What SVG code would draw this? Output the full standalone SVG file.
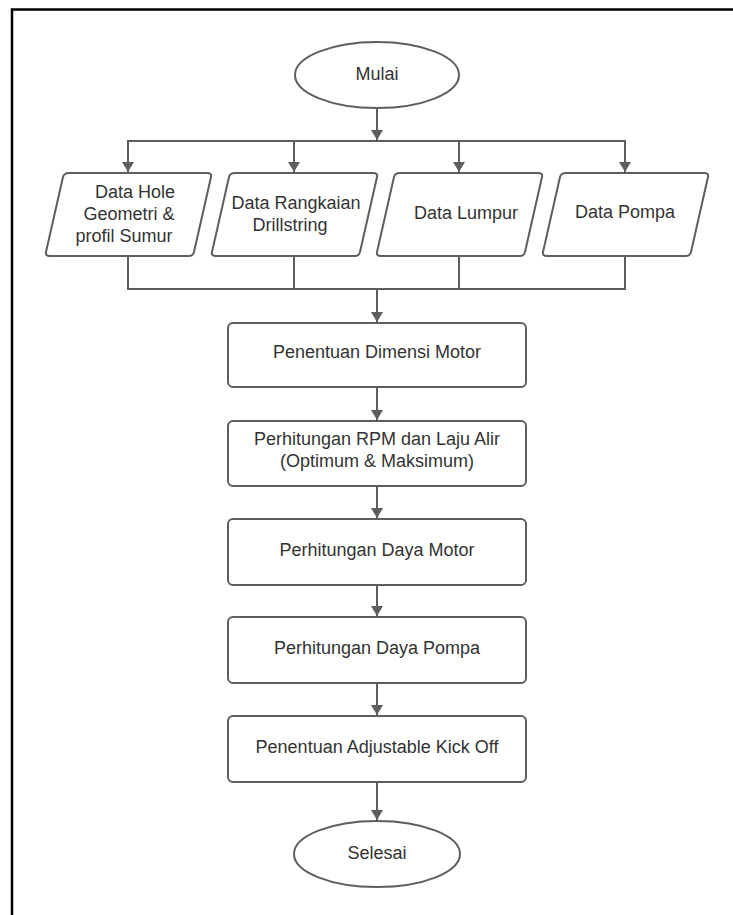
<svg xmlns="http://www.w3.org/2000/svg" width="733" height="915" viewBox="0 0 733 915">
<style>
.shape{fill:#ffffff;stroke:#5e5e5e;stroke-width:2;stroke-linejoin:round}
.conn{fill:none;stroke:#5e5e5e;stroke-width:2}
.t{font-family:"Liberation Sans",Arial,sans-serif;font-size:18px;fill:#333333;text-anchor:middle}
</style>
<defs>
<marker id="arr" viewBox="0 0 10 12" refX="10" refY="6" markerWidth="10" markerHeight="12" markerUnits="userSpaceOnUse" orient="auto">
<path d="M0,0 L10,6 L0,12 Z" fill="#5e5e5e"/>
</marker>
</defs>
<rect width="733" height="915" fill="#ffffff"/>
<path d="M12 915 V9.5 H733" fill="none" stroke="#000000" stroke-width="2.5"/>
<g id="connectors">
<path class="conn" d="M377 108 V140" marker-end="url(#arr)"/>
<path class="conn" d="M128 172 V141 H625 V172" marker-end="url(#arr)"/>
<path class="conn" d="M128 141 V172" marker-end="url(#arr)"/>
<path class="conn" d="M294 141 V172" marker-end="url(#arr)"/>
<path class="conn" d="M459 141 V172" marker-end="url(#arr)"/>
<path class="conn" d="M128 256 V289 H625 V256"/>
<path class="conn" d="M294 256 V289"/>
<path class="conn" d="M459 256 V289"/>
<path class="conn" d="M377 289 V322" marker-end="url(#arr)"/>
<path class="conn" d="M377 387 V420" marker-end="url(#arr)"/>
<path class="conn" d="M377 486 V518" marker-end="url(#arr)"/>
<path class="conn" d="M377 585 V616" marker-end="url(#arr)"/>
<path class="conn" d="M377 683 V715" marker-end="url(#arr)"/>
<path class="conn" d="M377 782 V820" marker-end="url(#arr)"/>
</g>
<g id="mulai">
<ellipse class="shape" cx="377" cy="75" rx="82" ry="33"/>
<text class="t" x="377" y="80">Mulai</text>
</g>
<g id="data-hole">
<path class="shape" d="M69 173 H207 Q212 173 211 177 L194 252 Q193 256 189 256 H50 Q45 256 46 252 L63 177 Q64 173 69 173 Z"/>
<text class="t" x="135" y="198">Data Hole</text>
<text class="t" x="129" y="220">Geometri &amp;</text>
<text class="t" x="124" y="242">profil Sumur</text>
</g>
<g id="data-rangkaian">
<path class="shape" d="M235 173 H373 Q378 173 377 177 L360 252 Q359 256 355 256 H216 Q211 256 212 252 L229 177 Q230 173 235 173 Z"/>
<text class="t" x="296" y="209">Data Rangkaian</text>
<text class="t" x="290" y="231">Drillstring</text>
</g>
<g id="data-lumpur">
<path class="shape" d="M400 173 H538 Q543 173 542 177 L525 252 Q524 256 520 256 H381 Q376 256 377 252 L394 177 Q395 173 400 173 Z"/>
<text class="t" x="466" y="219">Data Lumpur</text>
</g>
<g id="data-pompa">
<path class="shape" d="M566 173 H704 Q709 173 708 177 L691 252 Q690 256 686 256 H547 Q542 256 543 252 L560 177 Q561 173 566 173 Z"/>
<text class="t" x="625" y="218">Data Pompa</text>
</g>
<g id="dimensi-motor">
<rect class="shape" x="228" y="323" width="298" height="64" rx="5"/>
<text class="t" x="377" y="358">Penentuan Dimensi Motor</text>
</g>
<g id="rpm-laju">
<rect class="shape" x="228" y="421" width="298" height="65" rx="5"/>
<text class="t" x="377" y="445">Perhitungan RPM dan Laju Alir</text>
<text class="t" x="377" y="467">(Optimum &amp; Maksimum)</text>
</g>
<g id="daya-motor">
<rect class="shape" x="228" y="519" width="298" height="66" rx="5"/>
<text class="t" x="377" y="556">Perhitungan Daya Motor</text>
</g>
<g id="daya-pompa">
<rect class="shape" x="228" y="617" width="298" height="66" rx="5"/>
<text class="t" x="377" y="654">Perhitungan Daya Pompa</text>
</g>
<g id="kick-off">
<rect class="shape" x="228" y="716" width="298" height="66" rx="5"/>
<text class="t" x="377" y="753">Penentuan Adjustable Kick Off</text>
</g>
<g id="selesai">
<ellipse class="shape" cx="377" cy="854" rx="83" ry="33"/>
<text class="t" x="377" y="859">Selesai</text>
</g>
</svg>
